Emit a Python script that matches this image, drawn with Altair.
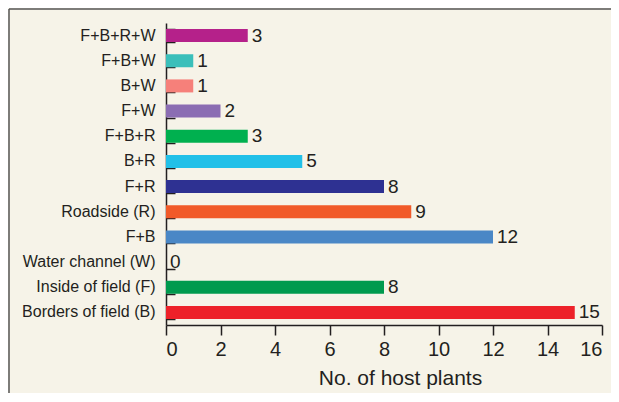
import altair as alt
import pandas as pd

categories = ["F+B+R+W", "F+B+W", "B+W", "F+W", "F+B+R", "B+R", "F+R",
              "Roadside (R)", "F+B", "Water channel (W)", "Inside of field (F)",
              "Borders of field (B)"]
values = [3, 1, 1, 2, 3, 5, 8, 9, 12, 0, 8, 15]
colors = ["#B5218A", "#3BBFBA", "#F6807A", "#8B6DB3", "#00B04F", "#22C0E8",
          "#2E3192", "#F15A29", "#4A87C6", "#999999", "#009A4E", "#ED2129"]
x_ticks = [0, 2, 4, 6, 8, 10, 12, 14, 16]

df = pd.DataFrame({"cat": categories, "val": values})

W, H = 436, 302
REG = "Liberation Sans"
INK = "#231F20"

yscale = alt.Scale(domain=categories, paddingInner=0.483, paddingOuter=0.2415)
xscale = alt.Scale(domain=[0, 16], nice=False)
xaxis = alt.Axis(values=x_ticks, title="No. of host plants", grid=False,
                 domainColor=INK, domainWidth=1.5, tickColor=INK,
                 tickWidth=1.5, tickSize=10, labelFont=REG,
                 labelFontSize=20, labelColor=INK, labelPadding=4,
                 titleFont=REG, titleFontSize=21, titleFontWeight="normal",
                 titleColor=INK, titlePadding=8, titleX=234)

bars = alt.Chart(df).mark_bar().encode(
    x=alt.X("val:Q", scale=xscale, axis=xaxis),
    y=alt.Y("cat:N", scale=yscale, sort=categories,
            axis=alt.Axis(title=None, ticks=False, domainColor=INK, domainWidth=1.5,
                          labelFont=REG, labelFontSize=16, labelColor=INK,
                          labelPadding=11, labelLimit=300)),
    color=alt.Color("cat:N", scale=alt.Scale(domain=categories, range=colors),
                    legend=None),
)

labels = alt.Chart(df).mark_text(align="left", baseline="middle", dx=4,
                                 font=REG, fontSize=19, color=INK).encode(
    x=alt.X("val:Q", scale=xscale, axis=xaxis),
    y=alt.Y("cat:N", scale=yscale, sort=categories,
            axis=alt.Axis(orient="right", offset=-W, labels=False, domain=False,
                          title=None, tickBand="extent", tickSize=9,
                          tickColor=INK, tickWidth=1.5)),
    text=alt.Text("val:Q"),
)

frame_df = pd.DataFrame({"a": [0]})
frame_left = alt.Chart(frame_df).mark_rule(color="#555555", strokeWidth=1.5).encode(
    x=alt.value(-157), y=alt.value(-14), y2=alt.value(380))
frame_top = alt.Chart(frame_df).mark_rule(color="#555555", strokeWidth=1.5).encode(
    x=alt.value(-157), x2=alt.value(445), y=alt.value(-14))

chart = alt.layer(bars, labels, frame_left, frame_top).resolve_axis(
    y="independent"
).properties(
    width=W, height=H,
    autosize=alt.AutoSizeParams(type="none"),
    padding={"left": 158, "top": 15, "right": 9, "bottom": 68},
    background="#F6F3E8",
).configure_view(stroke=None)

chart.save("out.html", embed_options={"renderer": "svg", "actions": False})
